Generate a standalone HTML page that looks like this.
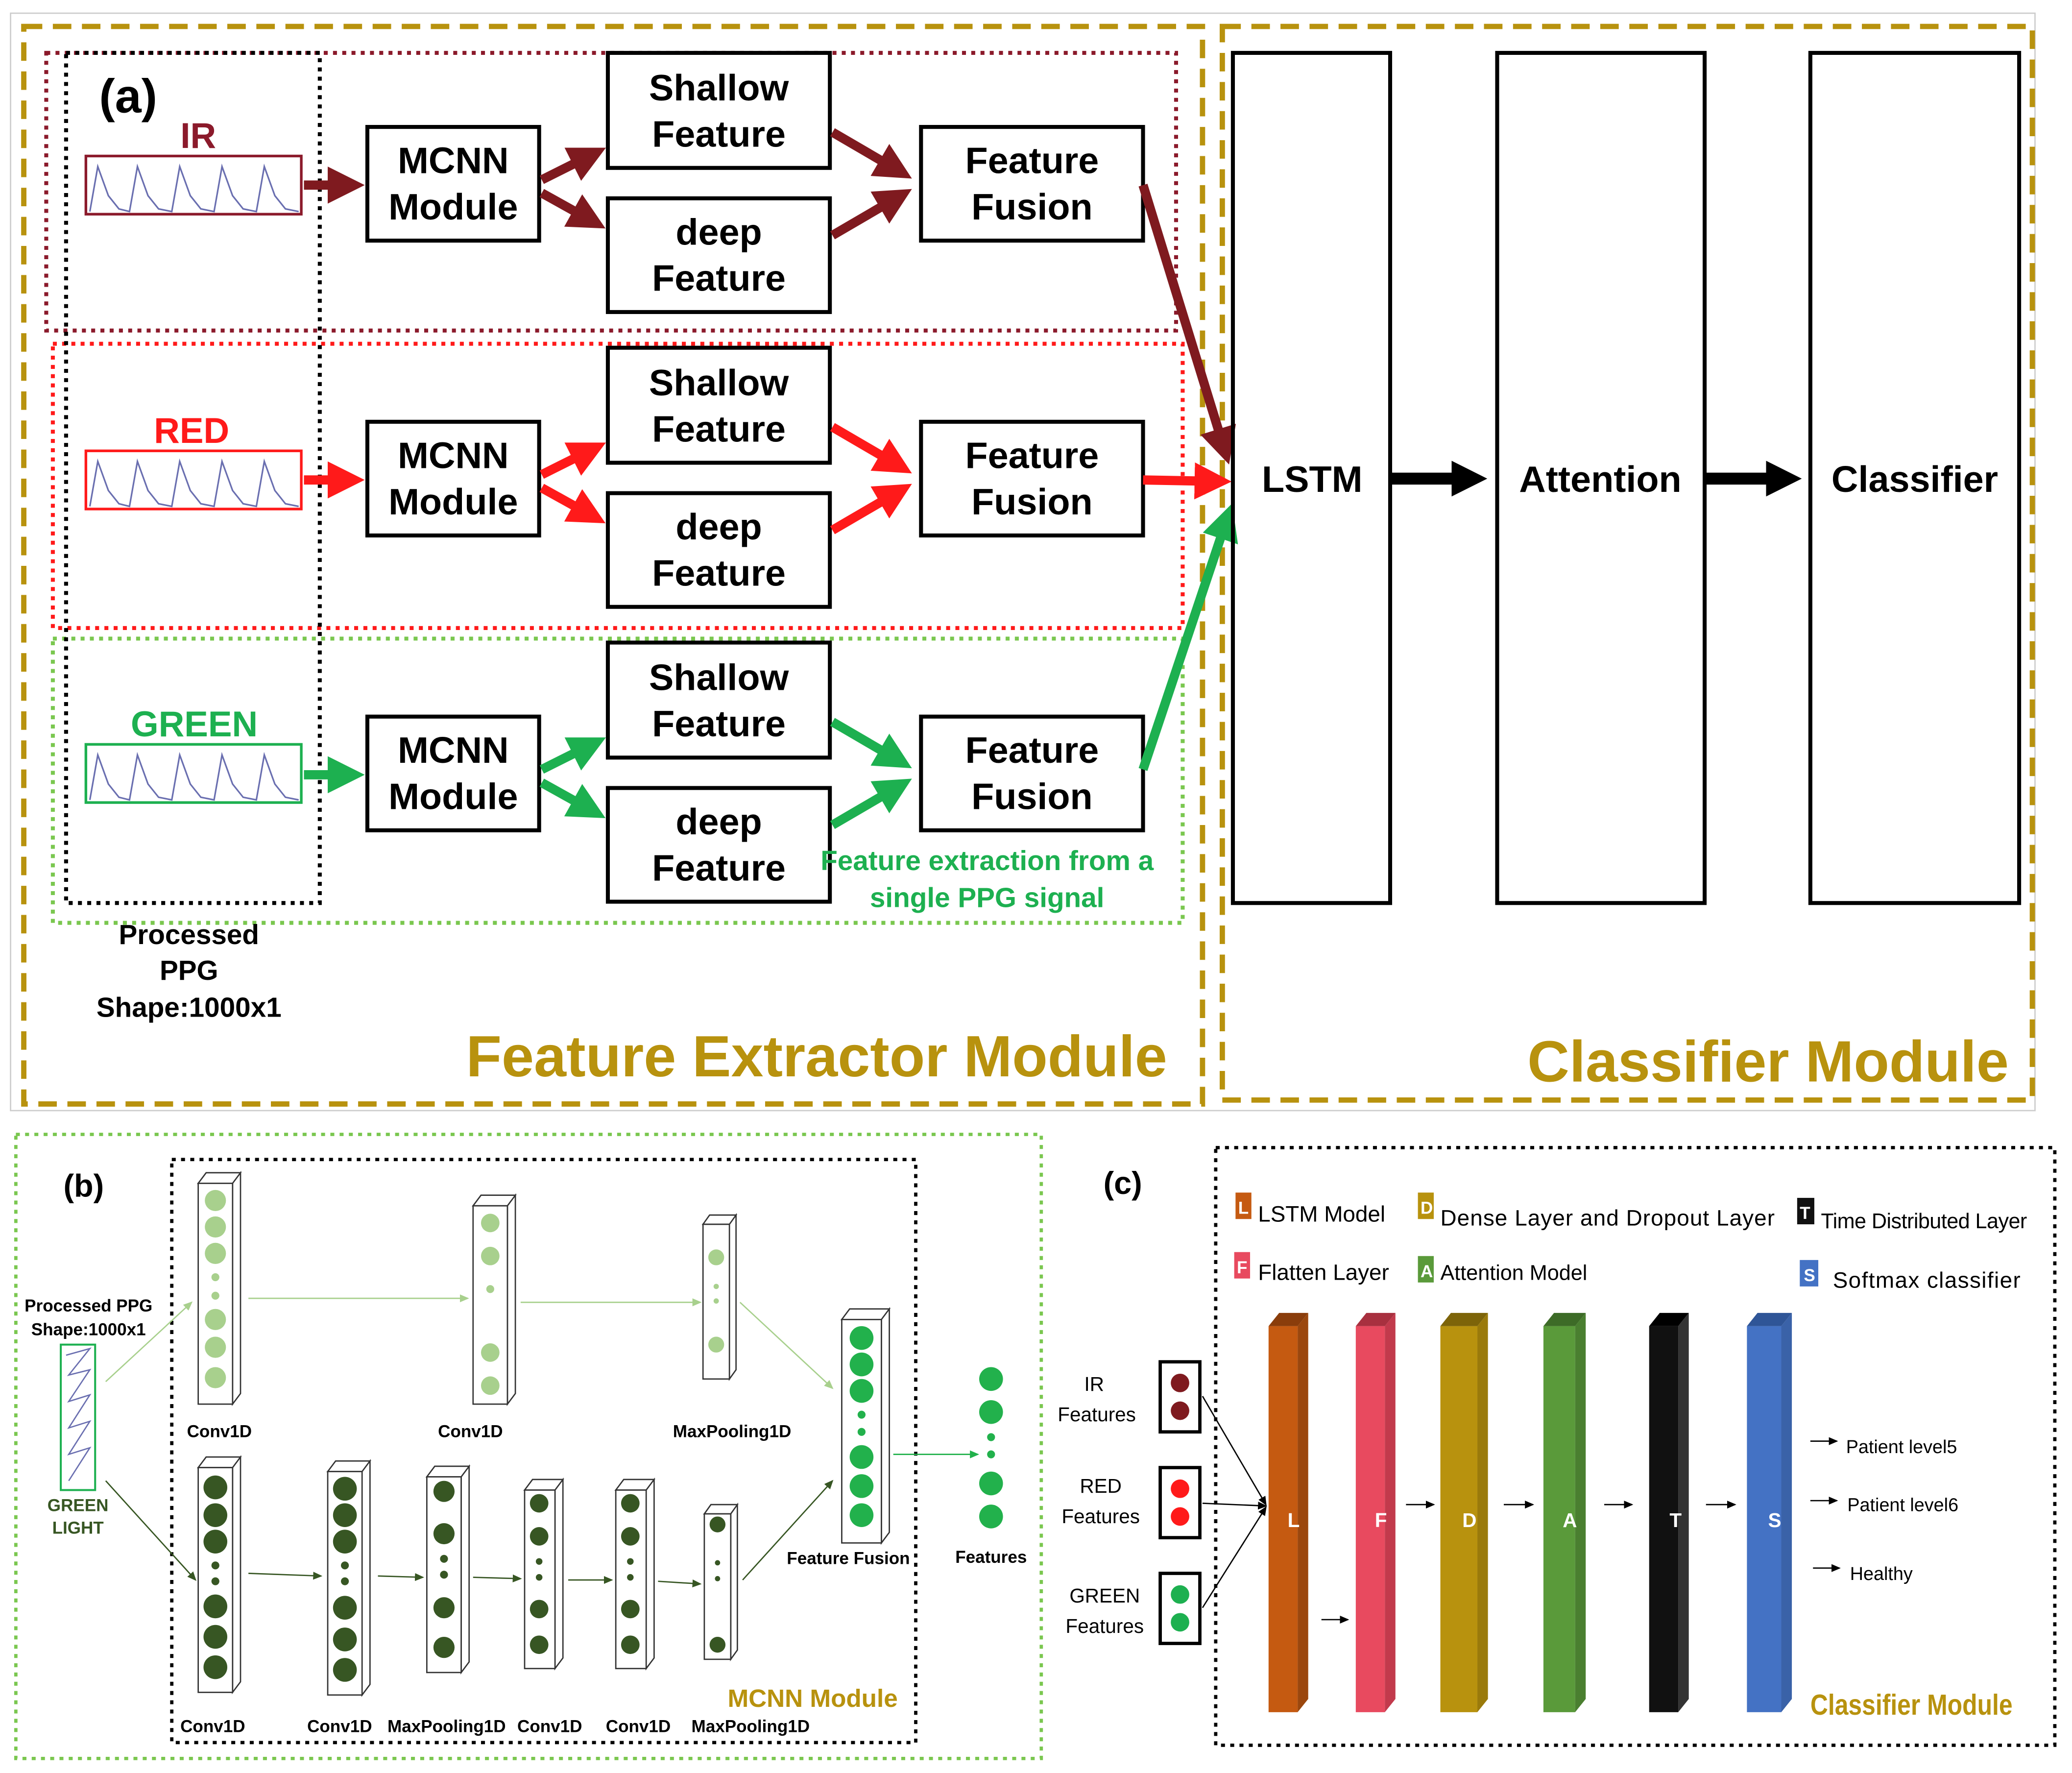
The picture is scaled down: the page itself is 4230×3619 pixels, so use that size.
<!DOCTYPE html>
<html><head><meta charset="utf-8"><style>
html,body{margin:0;padding:0;background:#fff}
svg{display:block}
text{font-family:"Liberation Sans",sans-serif}
</style></head><body>
<svg width="4230" height="3619" viewBox="0 0 1568 1341" preserveAspectRatio="none" xmlns="http://www.w3.org/2000/svg">
<defs>
<marker id="ad" markerWidth="4" markerHeight="4" refX="2" refY="2" orient="auto" markerUnits="strokeWidth"><path d="M0,0 L4,2 L0,4z" fill="#7f1a1f"/></marker>
<marker id="ar" markerWidth="4" markerHeight="4" refX="2" refY="2" orient="auto" markerUnits="strokeWidth"><path d="M0,0 L4,2 L0,4z" fill="#ff1a1a"/></marker>
<marker id="ag" markerWidth="4" markerHeight="4" refX="2" refY="2" orient="auto" markerUnits="strokeWidth"><path d="M0,0 L4,2 L0,4z" fill="#1db050"/></marker>
<marker id="ak" markerWidth="3" markerHeight="3" refX="1.5" refY="1.5" orient="auto" markerUnits="strokeWidth"><path d="M0,0 L3,1.5 L0,3z" fill="#000"/></marker>
<marker id="as" markerWidth="8" markerHeight="8" refX="6" refY="4" orient="auto" markerUnits="userSpaceOnUse"><path d="M0,1 L7,4 L0,7z" fill="#000"/></marker>
<marker id="al" markerWidth="8" markerHeight="8" refX="6" refY="4" orient="auto" markerUnits="userSpaceOnUse"><path d="M0,1 L7,4 L0,7z" fill="#a8d08d"/></marker>
<marker id="adg" markerWidth="8" markerHeight="8" refX="6" refY="4" orient="auto" markerUnits="userSpaceOnUse"><path d="M0,1 L7,4 L0,7z" fill="#375623"/></marker>
<marker id="agg" markerWidth="8" markerHeight="8" refX="6" refY="4" orient="auto" markerUnits="userSpaceOnUse"><path d="M0,1 L7,4 L0,7z" fill="#22b14c"/></marker>
<path id="wave" d="M0,40 L6,6 L14,28 L22,38 L30,40 L36,6 L44,28 L52,38 L62,40 L68,6 L76,28 L84,38 L94,40 L100,6 L108,28 L116,38 L126,40 L132,6 L140,28 L148,38 L158,40" fill="none" stroke="#6a6fb0" stroke-width="1.2"/>
</defs>
<rect x="8" y="10" width="1532" height="830" fill="none" stroke="#ccc" stroke-width="1"/>
<rect x="18" y="20" width="892" height="815" fill="none" stroke="#b8920e" stroke-width="4" stroke-dasharray="14,8"/>
<rect x="925" y="20" width="613" height="812" fill="none" stroke="#b8920e" stroke-width="4" stroke-dasharray="14,8"/>
<rect x="35" y="40" width="855" height="210" fill="none" stroke="#8b1a2b" stroke-width="3" stroke-dasharray="3,4"/>
<rect x="40" y="260" width="855" height="215" fill="none" stroke="#ff1a1a" stroke-width="3" stroke-dasharray="3,4"/>
<rect x="40" y="483" width="855" height="215" fill="none" stroke="#7ac74f" stroke-width="3" stroke-dasharray="3,4"/>
<rect x="50" y="40" width="192" height="643" fill="none" stroke="#000" stroke-width="3" stroke-dasharray="3,4"/>
<text x="75" y="85" font-size="36" font-weight="bold">(a)</text>

<g font-weight="bold" font-size="27" text-anchor="middle">
<text x="150" y="112" fill="#8b1a2b">IR</text>
<rect x="65" y="118" width="163" height="44" fill="#fff" stroke="#8b1a2b" stroke-width="2"/>
<use href="#wave" x="68" y="120"/>
<text x="145" y="335" fill="#ff1a1a">RED</text>
<rect x="65" y="341" width="163" height="44" fill="#fff" stroke="#ff1a1a" stroke-width="2"/>
<use href="#wave" x="68" y="343"/>
<text x="147" y="557" fill="#1db050">GREEN</text>
<rect x="65" y="563" width="163" height="44" fill="#fff" stroke="#1db050" stroke-width="2"/>
<use href="#wave" x="68" y="565"/>
</g>

<g id="row1">
<g fill="#fff" stroke="#000" stroke-width="3">
<rect x="278" y="96" width="130" height="86"/>
<rect x="460" y="40" width="168" height="87"/>
<rect x="460" y="150" width="168" height="86"/>
<rect x="697" y="96" width="168" height="86"/>
</g>
<g font-weight="bold" font-size="28" text-anchor="middle">
<text x="343" y="131">MCNN</text><text x="343" y="166">Module</text>
<text x="544" y="76">Shallow</text><text x="544" y="111">Feature</text>
<text x="544" y="185">deep</text><text x="544" y="220">Feature</text>
<text x="781" y="131">Feature</text><text x="781" y="166">Fusion</text>
</g>
</g>
<use href="#row1" y="223"/>
<use href="#row1" y="446"/>

<g stroke-width="7" fill="none">
<g stroke="#7f1a1f" marker-end="url(#ad)">
<line x1="230" y1="140" x2="262" y2="140"/>
<line x1="410" y1="136" x2="446" y2="118"/>
<line x1="410" y1="146" x2="446" y2="166"/>
<line x1="630" y1="100" x2="678" y2="128"/>
<line x1="630" y1="178" x2="678" y2="150"/>
<line x1="865" y1="140" x2="926" y2="338"/>
</g>
<g stroke="#ff1a1a" marker-end="url(#ar)">
<line x1="230" y1="363" x2="262" y2="363"/>
<line x1="410" y1="359" x2="446" y2="341"/>
<line x1="410" y1="369" x2="446" y2="389"/>
<line x1="630" y1="323" x2="678" y2="351"/>
<line x1="630" y1="401" x2="678" y2="373"/>
<line x1="865" y1="363" x2="918" y2="364"/>
</g>
<g stroke="#1db050" marker-end="url(#ag)">
<line x1="230" y1="586" x2="262" y2="586"/>
<line x1="410" y1="582" x2="446" y2="564"/>
<line x1="410" y1="592" x2="446" y2="612"/>
<line x1="630" y1="546" x2="678" y2="574"/>
<line x1="630" y1="624" x2="678" y2="596"/>
<line x1="865" y1="582" x2="928" y2="394"/>
</g>
<g stroke="#000" marker-end="url(#ak)" stroke-width="9">
<line x1="1052" y1="362" x2="1112" y2="362"/>
<line x1="1290" y1="362" x2="1350" y2="362"/>
</g>
</g>

<g fill="none" stroke="#000" stroke-width="3">
<rect x="933" y="40" width="119" height="643"/>
<rect x="1133" y="40" width="157" height="643"/>
<rect x="1370" y="40" width="158" height="643"/>
</g>
<g font-weight="bold" font-size="28" text-anchor="middle">
<text x="993" y="372">LSTM</text><text x="1211" y="372">Attention</text><text x="1449" y="372">Classifier</text>
<text x="143" y="714" font-size="21">Processed</text>
<text x="143" y="741" font-size="21">PPG</text>
<text x="143" y="769" font-size="21">Shape:1000x1</text>
<text x="747" y="658" font-size="21" fill="#1db050">Feature extraction from a</text>
<text x="747" y="686" font-size="21" fill="#1db050">single PPG signal</text>
<text x="618" y="814" font-size="44" fill="#b8920e">Feature Extractor Module</text>
<text x="1338" y="818" font-size="44" fill="#b8920e">Classifier Module</text>
</g>

<rect x="12" y="858" width="776" height="472" fill="none" stroke="#7ac74f" stroke-width="2.5" stroke-dasharray="3,4"/>
<rect x="130" y="877" width="563" height="441" fill="none" stroke="#000" stroke-width="2.5" stroke-dasharray="3,4"/>
<text x="48" y="905" font-size="24" font-weight="bold">(b)</text>
<g font-size="13" font-weight="bold" text-anchor="middle">
<text x="67" y="992">Processed PPG</text><text x="67" y="1010">Shape:1000x1</text>
<text x="59" y="1143" fill="#375623">GREEN</text><text x="59" y="1160" fill="#375623">LIGHT</text>
<text x="166" y="1087">Conv1D</text><text x="356" y="1087">Conv1D</text><text x="554" y="1087">MaxPooling1D</text>
<text x="642" y="1183">Feature Fusion</text><text x="750" y="1182">Features</text>
<text x="161" y="1310">Conv1D</text><text x="257" y="1310">Conv1D</text><text x="338" y="1310">MaxPooling1D</text>
<text x="416" y="1310">Conv1D</text><text x="483" y="1310">Conv1D</text><text x="568" y="1310">MaxPooling1D</text>
<text x="615" y="1291" font-size="19" fill="#b8920e">MCNN Module</text>
</g>
<rect x="46" y="1017" width="26" height="110" fill="#fff" stroke="#1db050" stroke-width="1.5"/>
<path d="M50,1025 L68,1020 L52,1040 L68,1036 L52,1060 L68,1055 L52,1080 L68,1075 L52,1100 L68,1095 L52,1120" fill="none" stroke="#6a6fb0" stroke-width="1"/>
<g stroke-width="1" fill="none">
<line x1="80" y1="1045" x2="145" y2="985" stroke="#a8d08d" marker-end="url(#al)"/>
<line x1="188" y1="982" x2="354" y2="982" stroke="#a8d08d" marker-end="url(#al)"/>
<line x1="394" y1="985" x2="530" y2="985" stroke="#a8d08d" marker-end="url(#al)"/>
<line x1="560" y1="985" x2="630" y2="1050" stroke="#a8d08d" marker-end="url(#al)"/>
<line x1="80" y1="1120" x2="148" y2="1195" stroke="#375623" marker-end="url(#adg)"/>
<line x1="188" y1="1190" x2="243" y2="1192" stroke="#375623" marker-end="url(#adg)"/>
<line x1="286" y1="1192" x2="320" y2="1193" stroke="#375623" marker-end="url(#adg)"/>
<line x1="358" y1="1193" x2="394" y2="1194" stroke="#375623" marker-end="url(#adg)"/>
<line x1="430" y1="1195" x2="463" y2="1195" stroke="#375623" marker-end="url(#adg)"/>
<line x1="498" y1="1196" x2="530" y2="1198" stroke="#375623" marker-end="url(#adg)"/>
<line x1="562" y1="1195" x2="630" y2="1120" stroke="#375623" marker-end="url(#adg)"/>
<line x1="676" y1="1100" x2="740" y2="1100" stroke="#22b14c" marker-end="url(#agg)"/>
</g>
<g stroke="#333" stroke-width="1">
<g fill="#fff">
<path d="M150,895 l6,-8 h26 l-6,8z M176,895 l6,-8 v167 l-6,8z"/><rect x="150" y="895" width="26" height="167"/>
<path d="M358,912 l6,-8 h26 l-6,8z M384,912 l6,-8 v150 l-6,8z"/><rect x="358" y="912" width="26" height="150"/>
<path d="M532,926 l5,-7 h20 l-5,7z M552,926 l5,-7 v117 l-5,7z"/><rect x="532" y="926" width="20" height="117"/>
<path d="M637,998 l6,-8 h30 l-6,8z M667,998 l6,-8 v169 l-6,8z"/><rect x="637" y="998" width="30" height="169"/>
<path d="M150,1110 l6,-8 h26 l-6,8z M176,1110 l6,-8 v170 l-6,8z"/><rect x="150" y="1110" width="26" height="170"/>
<path d="M248,1113 l6,-8 h26 l-6,8z M274,1113 l6,-8 v169 l-6,8z"/><rect x="248" y="1113" width="26" height="169"/>
<path d="M323,1117 l6,-8 h26 l-6,8z M349,1117 l6,-8 v148 l-6,8z"/><rect x="323" y="1117" width="26" height="148"/>
<path d="M397,1127 l6,-8 h23 l-6,8z M420,1127 l6,-8 v135 l-6,8z"/><rect x="397" y="1127" width="23" height="135"/>
<path d="M466,1127 l6,-8 h23 l-6,8z M489,1127 l6,-8 v135 l-6,8z"/><rect x="466" y="1127" width="23" height="135"/>
<path d="M533,1145 l5,-7 h20 l-5,7z M553,1145 l5,-7 v110 l-5,7z"/><rect x="533" y="1145" width="20" height="110"/>
</g></g>
<g fill="#a8d08d">
<circle cx="163" cy="908" r="8"/><circle cx="163" cy="928" r="8"/><circle cx="163" cy="948" r="8"/><circle cx="163" cy="966" r="3"/><circle cx="163" cy="980" r="3"/><circle cx="163" cy="998" r="8"/><circle cx="163" cy="1019" r="8"/><circle cx="163" cy="1042" r="8"/>
<circle cx="371" cy="925" r="7"/><circle cx="371" cy="950" r="7"/><circle cx="371" cy="975" r="3"/><circle cx="371" cy="1023" r="7"/><circle cx="371" cy="1048" r="7"/>
<circle cx="542" cy="951" r="6"/><circle cx="542" cy="973" r="2"/><circle cx="542" cy="984" r="2"/><circle cx="542" cy="1017" r="6"/>
</g>
<g fill="#22b14c">
<circle cx="652" cy="1012" r="9"/><circle cx="652" cy="1032" r="9"/><circle cx="652" cy="1052" r="9"/><circle cx="652" cy="1070" r="3"/><circle cx="652" cy="1083" r="3"/><circle cx="652" cy="1102" r="9"/><circle cx="652" cy="1124" r="9"/><circle cx="652" cy="1146" r="9"/>
<circle cx="750" cy="1043" r="9"/><circle cx="750" cy="1068" r="9"/><circle cx="750" cy="1087" r="3"/><circle cx="750" cy="1100" r="3"/><circle cx="750" cy="1122" r="9"/><circle cx="750" cy="1147" r="9"/>
</g>
<g fill="#375623">
<circle cx="163" cy="1125" r="9"/><circle cx="163" cy="1146" r="9"/><circle cx="163" cy="1166" r="9"/><circle cx="163" cy="1184" r="3"/><circle cx="163" cy="1196" r="3"/><circle cx="163" cy="1215" r="9"/><circle cx="163" cy="1238" r="9"/><circle cx="163" cy="1261" r="9"/>
<circle cx="261" cy="1126" r="9"/><circle cx="261" cy="1146" r="9"/><circle cx="261" cy="1166" r="9"/><circle cx="261" cy="1184" r="3"/><circle cx="261" cy="1196" r="3"/><circle cx="261" cy="1216" r="9"/><circle cx="261" cy="1240" r="9"/><circle cx="261" cy="1263" r="9"/>
<circle cx="336" cy="1128" r="8"/><circle cx="336" cy="1160" r="8"/><circle cx="336" cy="1179" r="3"/><circle cx="336" cy="1191" r="3"/><circle cx="336" cy="1216" r="8"/><circle cx="336" cy="1246" r="8"/>
<circle cx="408" cy="1137" r="7"/><circle cx="408" cy="1162" r="7"/><circle cx="408" cy="1181" r="2.5"/><circle cx="408" cy="1193" r="2.5"/><circle cx="408" cy="1217" r="7"/><circle cx="408" cy="1244" r="7"/>
<circle cx="477" cy="1137" r="7"/><circle cx="477" cy="1162" r="7"/><circle cx="477" cy="1181" r="2.5"/><circle cx="477" cy="1193" r="2.5"/><circle cx="477" cy="1217" r="7"/><circle cx="477" cy="1244" r="7"/>
<circle cx="543" cy="1153" r="6"/><circle cx="543" cy="1182" r="2"/><circle cx="543" cy="1194" r="2"/><circle cx="543" cy="1244" r="6"/>
</g>

<rect x="920" y="868" width="635" height="452" fill="none" stroke="#000" stroke-width="2.5" stroke-dasharray="3,4"/>
<text x="835" y="903" font-size="24" font-weight="bold">(c)</text>
<g font-size="17" fill="#000">
<rect x="935" y="902" width="12" height="20" fill="#c55a11"/><text x="937" y="918" font-size="13" fill="#fff" font-weight="bold">L</text><text x="952" y="924">LSTM Model</text>
<rect x="1073" y="902" width="12" height="20" fill="#b8920e"/><text x="1075" y="918" font-size="13" fill="#fff" font-weight="bold">D</text><text x="1090" y="927" textLength="253">Dense Layer and Dropout  Layer</text>
<rect x="1360" y="906" width="13" height="20" fill="#111"/><text x="1362" y="922" font-size="13" fill="#fff" font-weight="bold">T</text><text x="1378" y="929" font-size="16" textLength="156">Time Distributed Layer</text>
<rect x="934" y="947" width="12" height="20" fill="#e84a5f"/><text x="936" y="963" font-size="13" fill="#fff" font-weight="bold">F</text><text x="952" y="968">Flatten Layer</text>
<rect x="1073" y="950" width="12" height="20" fill="#5a9a3a"/><text x="1075" y="966" font-size="13" fill="#fff" font-weight="bold">A</text><text x="1090" y="968" font-size="16">Attention Model</text>
<rect x="1362" y="953" width="14" height="20" fill="#4472c4"/><text x="1365" y="969" font-size="13" fill="#fff" font-weight="bold">S</text><text x="1387" y="974" textLength="142">Softmax classifier</text>
</g>
<g font-size="15" text-anchor="middle">
<text x="828" y="1052">IR</text><text x="830" y="1075">Features</text>
<text x="833" y="1129">RED</text><text x="833" y="1152">Features</text>
<text x="836" y="1212">GREEN</text><text x="836" y="1235">Features</text>
</g>
<g stroke="#000" stroke-width="2.5" fill="#fff">
<rect x="878" y="1030" width="30" height="53"/><rect x="878" y="1110" width="30" height="53"/><rect x="878" y="1190" width="30" height="53"/>
</g>
<circle cx="893" cy="1046" r="7" fill="#7f1a1f"/><circle cx="893" cy="1067" r="7" fill="#7f1a1f"/>
<circle cx="893" cy="1126" r="7" fill="#ff1a1a"/><circle cx="893" cy="1147" r="7" fill="#ff1a1a"/>
<circle cx="893" cy="1206" r="7" fill="#1db050"/><circle cx="893" cy="1227" r="7" fill="#1db050"/>
<g stroke="#000" stroke-width="1">
<line x1="910" y1="1056" x2="958" y2="1138" marker-end="url(#as)"/>
<line x1="910" y1="1137" x2="958" y2="1139" marker-end="url(#as)"/>
<line x1="910" y1="1216" x2="958" y2="1140" marker-end="url(#as)"/>
<line x1="1000" y1="1225" x2="1020" y2="1225" marker-end="url(#as)"/>
<line x1="1064" y1="1138" x2="1085" y2="1138" marker-end="url(#as)"/>
<line x1="1138" y1="1138" x2="1160" y2="1138" marker-end="url(#as)"/>
<line x1="1214" y1="1138" x2="1235" y2="1138" marker-end="url(#as)"/>
<line x1="1291" y1="1138" x2="1313" y2="1138" marker-end="url(#as)"/>
<line x1="1370" y1="1090" x2="1390" y2="1090" marker-end="url(#as)"/>
<line x1="1370" y1="1135" x2="1390" y2="1135" marker-end="url(#as)"/>
<line x1="1372" y1="1186" x2="1392" y2="1186" marker-end="url(#as)"/>
</g>
<g font-size="14"><text x="1397" y="1099">Patient level5</text><text x="1398" y="1143">Patient level6</text><text x="1400" y="1195">Healthy</text></g>
<g>
<path d="M960,1003 l8,-10 h22 l-8,10z" fill="#8a3d0b"/><path d="M960,1003 h22 v292 h-22z" fill="#c55a11"/><path d="M982,1003 l8,-10 v292 l-8,10z" fill="#9b470d"/>
<path d="M1026,1003 l8,-10 h22 l-8,10z" fill="#a8303f"/><path d="M1026,1003 h22 v292 h-22z" fill="#e84a5f"/><path d="M1048,1003 l8,-10 v292 l-8,10z" fill="#c23a4c"/>
<path d="M1090,1003 l8,-10 h28 l-8,10z" fill="#7d6409"/><path d="M1090,1003 h28 v292 h-28z" fill="#b8920e"/><path d="M1118,1003 l8,-10 v292 l-8,10z" fill="#9a7a0b"/>
<path d="M1168,1003 l8,-10 h24 l-8,10z" fill="#3d6b27"/><path d="M1168,1003 h24 v292 h-24z" fill="#5a9a3a"/><path d="M1192,1003 l8,-10 v292 l-8,10z" fill="#4a7f30"/>
<path d="M1248,1003 l8,-10 h22 l-8,10z" fill="#000"/><path d="M1248,1003 h22 v292 h-22z" fill="#111"/><path d="M1270,1003 l8,-10 v292 l-8,10z" fill="#333"/>
<path d="M1322,1003 l8,-10 h26 l-8,10z" fill="#2f5597"/><path d="M1322,1003 h26 v292 h-26z" fill="#4472c4"/><path d="M1348,1003 l8,-10 v292 l-8,10z" fill="#3a62a8"/>
</g>
<g font-size="15" fill="#fff" font-weight="bold" text-anchor="middle">
<text x="979" y="1155">L</text><text x="1045" y="1155">F</text><text x="1112" y="1155">D</text><text x="1188" y="1155">A</text><text x="1268" y="1155">T</text><text x="1343" y="1155">S</text>
</g>
<text x="1370" y="1297" font-size="22" font-weight="bold" fill="#b8920e" textLength="153" lengthAdjust="spacingAndGlyphs">Classifier Module</text>
</svg>
</body></html>
